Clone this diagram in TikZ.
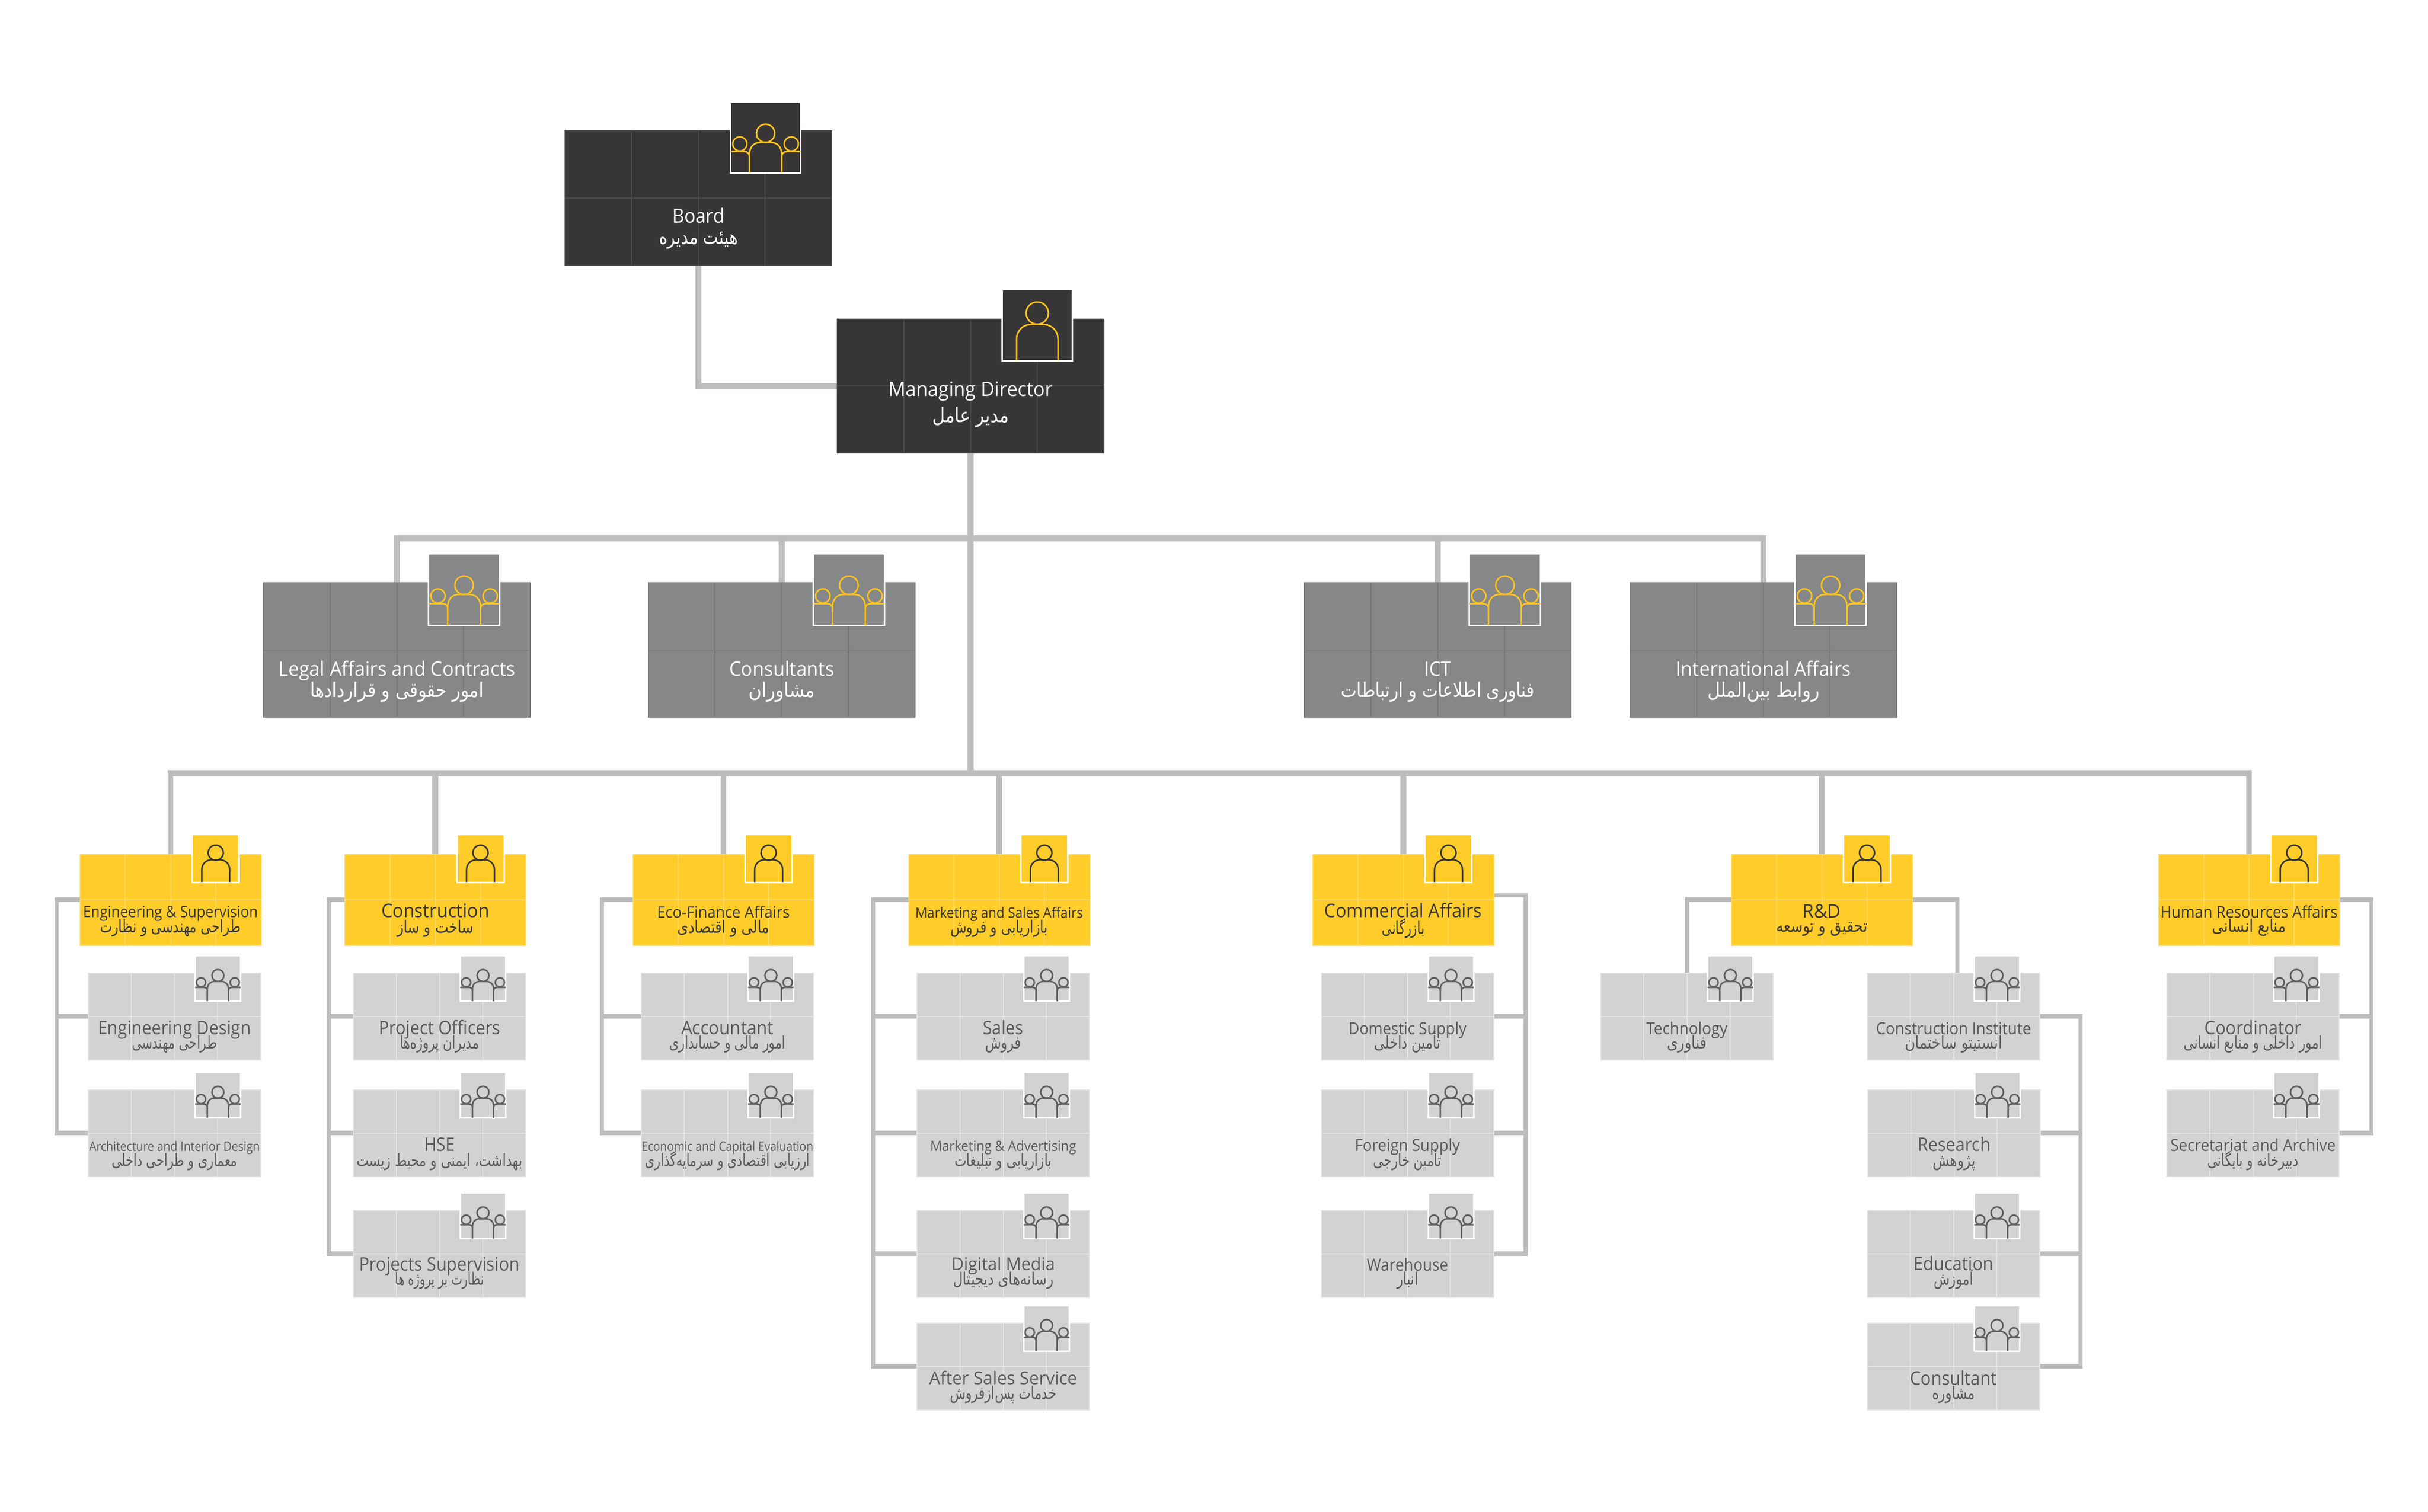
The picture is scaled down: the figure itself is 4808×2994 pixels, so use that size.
\documentclass[tikz,border=0pt]{standalone}
\usepackage{fontspec}
\usepackage{graphicx}
\usetikzlibrary{calc}
\TeXXeTstate=1
\setmainfont{Open Sans}
\newfontfamily\fafont[Script=Arabic]{DejaVu Sans}
\definecolor{cDark}{HTML}{373536}
\definecolor{gDark}{HTML}{4A494A}
\definecolor{cMid}{HTML}{868789}
\definecolor{gMid}{HTML}{747577}
\definecolor{cYel}{HTML}{FFCC29}
\definecolor{gYel}{HTML}{FFD95E}
\definecolor{cLig}{HTML}{D1D2D4}
\definecolor{gLig}{HTML}{E4E5E6}
\definecolor{cConn}{HTML}{BCBDBF}
\definecolor{icYel}{HTML}{FDC21D}
\definecolor{icDark}{HTML}{3A3838}
\definecolor{icGray}{HTML}{5E5E60}
\definecolor{txGray}{HTML}{5B5B5D}
\pgfdeclarelayer{bg}
\pgfsetlayers{bg,main}
\newsavebox\fitbox
\newcommand\fitw[2]{\sbox\fitbox{#2}\pgfmathsetmacro\fitf{#1*0.2/\the\wd\fitbox}\scalebox{\fitf}[1]{\usebox\fitbox}}
\def\fafs{6.8}
% name, fill, grid, x0, y0, x1, y1
\newcommand\OrgBox[7]{%
  \node[orgbox,fill=#2,draw=#3,minimum width={((#6)-(#4))*0.2pt},minimum height={((#7)-(#5))*0.2pt}] (#1) at ({((#4)+(#6))/2},{((#5)+(#7))/2}) {};
  \draw[gridline,#3] (#1.west) -- (#1.east);
  \foreach \gridf in {0.25,0.5,0.75}{
    \draw[gridline,#3] ($(#1.north west)!\gridf!(#1.north east)$) -- ($(#1.south west)!\gridf!(#1.south east)$);
  }
}
% name, fill, x0, y0, x1, y1
\newcommand\OrgIcon[6]{%
  \node[iconbox,fill=#2,minimum width={((#5)-(#3))*0.2pt},minimum height={((#6)-(#4))*0.2pt}] (#1-ic) at ({((#3)+(#5))/2},{((#4)+(#6))/2}) {};
  \draw[iconedge] ($(#1-ic.north west)+(1.5,0)$) -- ($(#1-ic.south west)+(1.5,-1.5)$) -- ($(#1-ic.south east)+(-1.5,-1.5)$) -- ($(#1-ic.north east)+(-1.5,0)$);
  \pgfmathsetmacro\ics{((#5)-(#3))/142}
}
% name, colour
\newcommand\MultiPeople[2]{%
  \begin{scope}[shift={(#1-ic.south)},scale=\ics]
    \draw[person,#2] (0,-80) circle [radius=18];
    \draw[person,#2] (-51,-59) circle [radius=14];
    \draw[person,#2] (51,-59) circle [radius=14];
    \draw[person,#2] (-32,-2) -- (-32,-38) .. controls (-32,-54) and (-22,-62) .. (-10,-62) -- (10,-62) .. controls (22,-62) and (32,-54) .. (32,-38) -- (32,-2);
    \draw[person,#2] (-69,-44) -- (-42,-44) .. controls (-36,-44) and (-32,-40) .. (-32,-34);
    \draw[person,#2] (69,-44) -- (42,-44) .. controls (36,-44) and (32,-40) .. (32,-34);
  \end{scope}
}
% name, colour, head y, head r, half, top
\newcommand\OnePerson[6]{%
  \begin{scope}[shift={(#1-ic.south)}]
    \draw[person,#2] (0,-#3) circle [radius=#4];
    \pgfmathsetmacro\pa{#5*0.72}
    \pgfmathsetmacro\pb{#5*0.3}
    \draw[person,#2] (-#5,-2) -- (-#5,{-#6+\pa}) .. controls (-#5,{-#6+\pb}) and ({-#5+\pb},-#6) .. ({-#5+\pa},-#6) -- ({#5-\pa},-#6) .. controls ({#5-\pb},-#6) and (#5,{-#6+\pb}) .. (#5,{-#6+\pa}) -- (#5,-2);
  \end{scope}
}
% name, colour, en base, en width, en size, english, fa base, fa width, persian
\newcommand\OrgLab[9]{%
  \node[orglab,text=#2] (#1-en) at (#1.center |- 0,#3) {\fitw{#4}{\fontsize{#5}{#5}\selectfont #6}};
  \node[orglab,text=#2] (#1-fa) at (#1.center |- 0,#7) {\fitw{#8}{\fontsize{\fafs}{\fafs}\selectfont\fafont #9}};
}
% yellow head: name, x0
\newcommand\HeadUnit[2]{%
  \OrgBox{#1}{cYel}{gYel}{#2}{1691.5}{#2+358}{1871.5}
  \OrgIcon{#1}{cYel}{#2+220.5}{1653.5}{#2+316.5}{1748.5}
  \OnePerson{#1}{icDark}{60}{15}{27.7}{46}
}
% light leaf: name, x1, y0
\newcommand\LeafUnit[3]{%
  \OrgBox{#1}{cLig}{gLig}{#2-341}{#3}{#2}{#3+171.5}
  \OrgIcon{#1}{cLig}{#2-131}{#3-33.5}{#2-38}{#3+57}
  \MultiPeople{#1}{icGray}
}
% mid grey: name, x0
\newcommand\MidUnit[2]{%
  \OrgBox{#1}{cMid}{gMid}{#2}{1154}{#2+528}{1420}
  \OrgIcon{#1}{cMid}{#2+325}{1098}{#2+469}{1240}
  \MultiPeople{#1}{icYel}
}
\tikzset{
  orgbox/.style={rectangle,inner sep=0pt,outer sep=0pt,line width=0.4pt},
  iconbox/.style={rectangle,inner sep=0pt,outer sep=0pt},
  gridline/.style={line width=0.4pt},
  iconedge/.style={draw=white,line width=0.6pt},
  person/.style={line width=0.6pt},
  orglab/.style={anchor=base,inner sep=0pt,outer sep=0pt},
  connmain/.style={draw=cConn,line width=2.3pt,line join=miter},
  connside/.style={draw=cConn,line width=1.75pt,line join=miter},
}
\begin{document}
\begin{tikzpicture}[x=0.2pt,y=-0.2pt]
\useasboundingbox (0,0) rectangle (4808,2994);
\def\fafs{8.0}
\OrgBox{board}{cDark}{gDark}{1119}{259}{1647}{525}
\OrgIcon{board}{cDark}{1445}{204}{1587}{344}
\MultiPeople{board}{icYel}
\OrgLab{board}{white}{442}{104}{7.8}{Board}{484}{156}{\beginR هیئت مدیره\endR}
\OrgBox{md}{cDark}{gDark}{1658}{632}{2186}{897}
\OrgIcon{md}{cDark}{1983}{575.5}{2125}{716}
\OnePerson{md}{icYel}{96}{22}{41}{73.5}
\OrgLab{md}{white}{785}{326}{7.8}{Managing Director}{837}{152}{\beginR مدیر عامل\endR}
\MidUnit{legal}{522}
\OrgLab{legal}{white}{1338}{469}{7.8}{Legal Affairs and Contracts}{1380}{344}{\beginR امور حقوقی و قراردادها\endR}
\MidUnit{cons}{1284}
\OrgLab{cons}{white}{1338}{208}{7.8}{Consultants}{1380}{132}{\beginR مشاوران\endR}
\MidUnit{ict}{2583}
\OrgLab{ict}{white}{1338}{53}{7.8}{ICT}{1380}{383}{\beginR فناوری اطلاعات و ارتباطات\endR}
\MidUnit{intl}{3228}
\OrgLab{intl}{white}{1338}{347}{7.8}{International Affairs}{1380}{222}{\beginR روابط بین‌الملل\endR}
\def\fafs{6.8}
\HeadUnit{eng}{158.7}
\OrgLab{eng}{icDark}{1816}{346}{6.2}{Engineering \& Supervision}{1846}{279}{\beginR طراحی مهندسی و نظارت\endR}
\HeadUnit{cstr}{683}
\OrgLab{cstr}{icDark}{1816}{214}{7.4}{Construction}{1847}{152}{\beginR ساخت و ساز\endR}
\HeadUnit{eco}{1253.6}
\OrgLab{eco}{icDark}{1817}{263}{6.2}{Eco-Finance Affairs}{1847}{182}{\beginR مالی و اقتصادی\endR}
\HeadUnit{mkt}{1799.5}
\OrgLab{mkt}{icDark}{1817}{332}{5.6}{Marketing and Sales Affairs}{1847}{193}{\beginR بازاریابی و فروش\endR}
\HeadUnit{com}{2599.8}
\OrgLab{com}{icDark}{1816}{312}{7.4}{Commercial Affairs}{1849}{84}{\beginR بازرگانی\endR}
\HeadUnit{rd}{3428.6}
\OrgLab{rd}{icDark}{1817}{75.5}{7.4}{R\&D}{1845}{181}{\beginR تحقیق و توسعه\endR}
\HeadUnit{hr}{4274.5}
\OrgLab{hr}{icDark}{1817}{351}{6.4}{Human Resources Affairs}{1845}{146}{\beginR منابع انسانی\endR}
% column 1
\LeafUnit{ed}{516}{1927}
\OrgLab{ed}{txGray}{2048}{303}{7.4}{Engineering Design}{2076}{169}{\beginR طراحی مهندسی\endR}
\LeafUnit{arch}{516}{2158}
\OrgLab{arch}{txGray}{2279}{338}{5.2}{Architecture and Interior Design}{2309}{249}{\beginR معماری و طراحی داخلی\endR}
% column 2
\LeafUnit{po}{1041}{1927}
\OrgLab{po}{txGray}{2048}{241}{7.4}{Project Officers}{2076}{157}{\beginR مدیران پروژه‌ها\endR}
\LeafUnit{hse}{1041}{2158}
\OrgLab{hse}{txGray}{2279}{60.6}{7.4}{HSE}{2309}{329}{\beginR بهداشت، ایمنی و محیط زیست\endR}
\LeafUnit{ps}{1041}{2397}
\OrgLab{ps}{txGray}{2516}{318}{7.4}{Projects Supervision}{2544}{176}{\beginR نظارت بر پروژه ها\endR}
% column 3
\LeafUnit{acc}{1611}{1927}
\OrgLab{acc}{txGray}{2048}{183}{7.4}{Accountant}{2076}{230}{\beginR امور مالی و حسابداری\endR}
\LeafUnit{ece}{1611}{2158}
\OrgLab{ece}{txGray}{2279}{340}{5.2}{Economic and Capital Evaluation}{2309}{326}{\beginR ارزیابی اقتصادی و سرمایه‌گذاری\endR}
% column 4
\LeafUnit{sal}{2157}{1927}
\OrgLab{sal}{txGray}{2048}{80}{7.4}{Sales}{2076}{70}{\beginR فروش\endR}
\LeafUnit{adv}{2157}{2158}
\OrgLab{adv}{txGray}{2279}{289}{5.6}{Marketing \& Advertising}{2309}{193}{\beginR بازاریابی و تبلیغات\endR}
\LeafUnit{dig}{2157}{2397}
\OrgLab{dig}{txGray}{2515}{205}{7.0}{Digital Media}{2544}{199}{\beginR رسانه‌های دیجیتال\endR}
\LeafUnit{aft}{2157}{2620}
\OrgLab{aft}{txGray}{2741}{293}{7.0}{After Sales Service}{2770}{211}{\beginR خدمات پس‌ازفروش\endR}
% column 5
\LeafUnit{dom}{2957.6}{1927}
\OrgLab{dom}{txGray}{2048}{234}{6.6}{Domestic Supply}{2076}{131}{\beginR تأمین داخلی\endR}
\LeafUnit{for}{2957.6}{2158}
\OrgLab{for}{txGray}{2279}{208}{6.6}{Foreign Supply}{2309}{135}{\beginR تأمین خارجی\endR}
\LeafUnit{war}{2957.6}{2397}
\OrgLab{war}{txGray}{2516}{161}{6.6}{Warehouse}{2544}{42}{\beginR انبار\endR}
% column 6
\LeafUnit{tec}{3511}{1927}
\OrgLab{tec}{txGray}{2048}{161}{6.6}{Technology}{2076}{79}{\beginR فناوری\endR}
\LeafUnit{ci}{4039}{1927}
\OrgLab{ci}{txGray}{2048}{307}{6.6}{Construction Institute}{2076}{193}{\beginR انستیتو ساختمان\endR}
\LeafUnit{res}{4040}{2158}
\OrgLab{res}{txGray}{2279}{145}{7.4}{Research}{2309}{84}{\beginR پژوهش\endR}
\LeafUnit{edu}{4039}{2397}
\OrgLab{edu}{txGray}{2515}{158}{7.4}{Education}{2544}{79}{\beginR آموزش\endR}
\LeafUnit{csl}{4039}{2620}
\OrgLab{csl}{txGray}{2742}{172.5}{7.4}{Consultant}{2770}{85}{\beginR مشاوره\endR}
% column 7
\LeafUnit{coo}{4632}{1927}
\OrgLab{coo}{txGray}{2048}{192}{7.4}{Coordinator}{2076}{274.5}{\beginR امور داخلی و منابع انسانی\endR}
\LeafUnit{sec}{4632}{2158}
\OrgLab{sec}{txGray}{2279}{327.5}{6.6}{Secretariat and Archive}{2309}{180.6}{\beginR دبیرخانه و بایگانی\endR}
% connector junctions
\coordinate (busU) at (1922,1066);
\coordinate (busL) at (1922,1531);
\coordinate (vEng) at (112,0);
\coordinate (vCst) at (651,0);
\coordinate (vEco) at (1192,0);
\coordinate (vMkt) at (1729,0);
\coordinate (vCom) at (3021,0);
\coordinate (vCin) at (4120,0);
\coordinate (vHum) at (4696,0);
\coordinate (comOut) at (2957.6,1773);
\coordinate (ciTop) at (3876,1927);
\begin{pgfonlayer}{bg}
\draw[connmain] (board.south) |- (md.west);
\draw[connmain] (md.south) -- (busL);
\draw[connmain] (legal.north) |- (busU);
\draw[connmain] (cons.north) |- (busU);
\draw[connmain] (ict.north) |- (busU);
\draw[connmain] (intl.north) |- (busU);
\draw[connmain] (eng.north) |- (busL);
\draw[connmain] (cstr.north) |- (busL);
\draw[connmain] (eco.north) |- (busL);
\draw[connmain] (mkt.north) |- (busL);
\draw[connmain] (com.north) |- (busL);
\draw[connmain] (rd.north) |- (busL);
\draw[connmain] (hr.north) |- (busL);
\draw[connside] (eng.west) -- (eng.west -| vEng) -- (arch.west -| vEng) -- (arch.west);
\draw[connside] (ed.west -| vEng) -- (ed.west);
\draw[connside] (cstr.west) -- (cstr.west -| vCst) -- (ps.west -| vCst) -- (ps.west);
\draw[connside] (po.west -| vCst) -- (po.west);
\draw[connside] (hse.west -| vCst) -- (hse.west);
\draw[connside] (eco.west) -- (eco.west -| vEco) -- (ece.west -| vEco) -- (ece.west);
\draw[connside] (acc.west -| vEco) -- (acc.west);
\draw[connside] (mkt.west) -- (mkt.west -| vMkt) -- (aft.west -| vMkt) -- (aft.west);
\draw[connside] (sal.west -| vMkt) -- (sal.west);
\draw[connside] (adv.west -| vMkt) -- (adv.west);
\draw[connside] (dig.west -| vMkt) -- (dig.west);
\draw[connside] (comOut) -- (comOut -| vCom) -- (war.east -| vCom) -- (war.east);
\draw[connside] (dom.east -| vCom) -- (dom.east);
\draw[connside] (for.east -| vCom) -- (for.east);
\draw[connside] (rd.west) -| (tec.north);
\draw[connside] (rd.east) -| (ciTop);
\draw[connside] (ci.east) -- (ci.east -| vCin) -- (csl.east -| vCin) -- (csl.east);
\draw[connside] (res.east) -- (res.east -| vCin);
\draw[connside] (edu.east) -- (edu.east -| vCin);
\draw[connside] (hr.east) -- (hr.east -| vHum) -- (sec.east -| vHum) -- (sec.east);
\draw[connside] (coo.east) -- (coo.east -| vHum);
\end{pgfonlayer}
\end{tikzpicture}
\end{document}
